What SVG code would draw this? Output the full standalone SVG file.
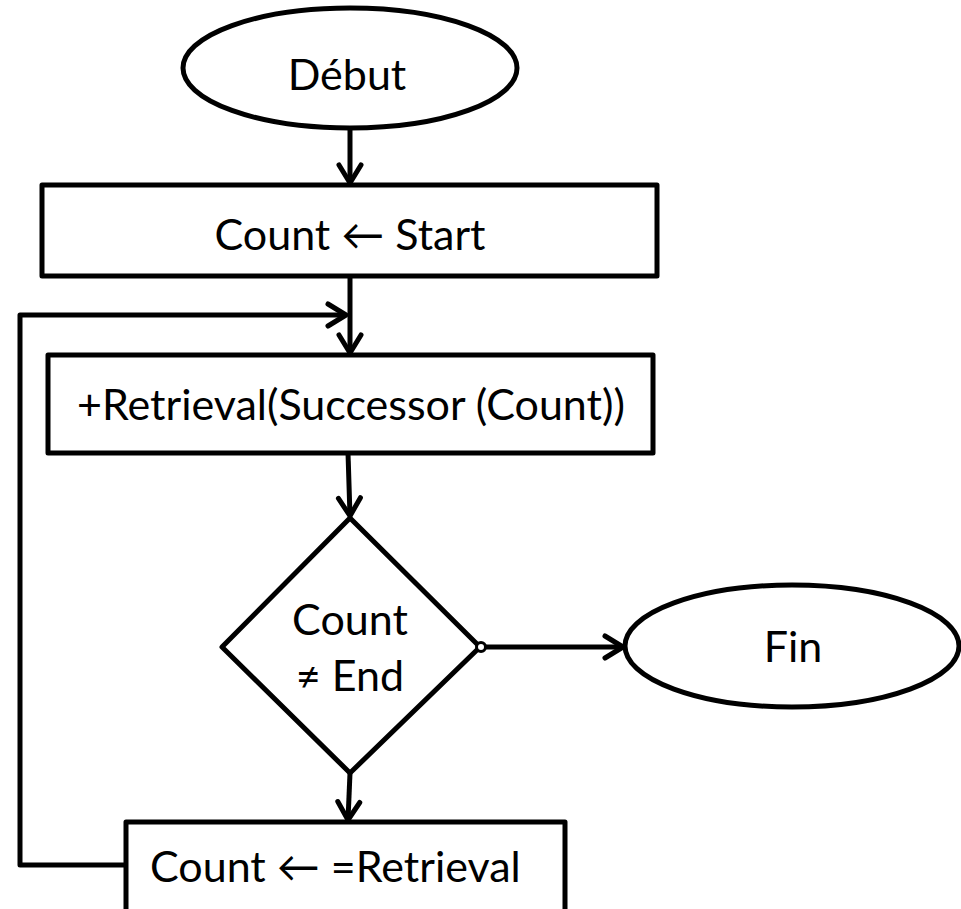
<svg xmlns="http://www.w3.org/2000/svg" width="961" height="909" viewBox="0 0 961 909">
  <style>
    .shape { fill: #ffffff; stroke: #000000; stroke-width: 5; stroke-linejoin: round; }
    .wire { fill: none; stroke: #000000; stroke-width: 5; stroke-linejoin: round; }
    .label { font-family: Lato, "Liberation Sans", sans-serif; font-size: 43px; fill: #000000; text-anchor: middle; }
    .label.left { text-anchor: start; }
  </style>
  <defs>
    <marker id="arrow" viewBox="0 0 12 12" refX="11" refY="6" markerWidth="12" markerHeight="12" markerUnits="userSpaceOnUse" orient="auto" overflow="visible">
      <path d="M -7 -5 L 11 6 L -7 17" fill="none" stroke="#000" stroke-width="5" stroke-linecap="round" stroke-linejoin="round"/>
    </marker>
  </defs>

  <!-- nodes -->
  <g id="debut">
    <ellipse class="shape" cx="350" cy="68" rx="167" ry="60"/>
    <text class="label" x="347" y="90">Début</text>
  </g>
  <g id="init">
    <rect class="shape" x="42" y="185" width="615" height="91"/>
    <text class="label" x="350" y="250">Count ← Start</text>
  </g>
  <g id="retrieve">
    <rect class="shape" x="48" y="355" width="605" height="98"/>
    <text class="label" x="351" y="420">+Retrieval(Successor (Count))</text>
  </g>
  <g id="test">
    <polygon class="shape" points="350,518 480,647 350,773 222,647"/>
    <text class="label" x="350" y="635">Count</text>
    <text class="label" x="350" y="691">≠ End</text>
  </g>
  <g id="fin">
    <ellipse class="shape" cx="792" cy="646" rx="167" ry="61"/>
    <text class="label" x="793" y="662">Fin</text>
  </g>
  <g id="update">
    <rect class="shape" x="126" y="822" width="439" height="120"/>
    <text class="label left" x="150" y="882">Count ← =Retrieval</text>
  </g>

  <!-- connectors -->
  <g id="connectors">
    <line class="wire" x1="350" y1="128" x2="350" y2="183" marker-end="url(#arrow)"/>
    <line class="wire" x1="350" y1="276" x2="350" y2="353" marker-end="url(#arrow)"/>
    <polyline class="wire" points="124,865 20,865 20,315 346,315" marker-end="url(#arrow)"/>
    <line class="wire" x1="348" y1="453" x2="350" y2="516" marker-end="url(#arrow)"/>
    <line class="wire" x1="350" y1="773" x2="348" y2="820" marker-end="url(#arrow)"/>
    <line class="wire" x1="486" y1="647" x2="623" y2="647" marker-end="url(#arrow)"/>
    <circle cx="481" cy="647" r="4.5" fill="#ffffff" stroke="#000000" stroke-width="3"/>
  </g>
</svg>
